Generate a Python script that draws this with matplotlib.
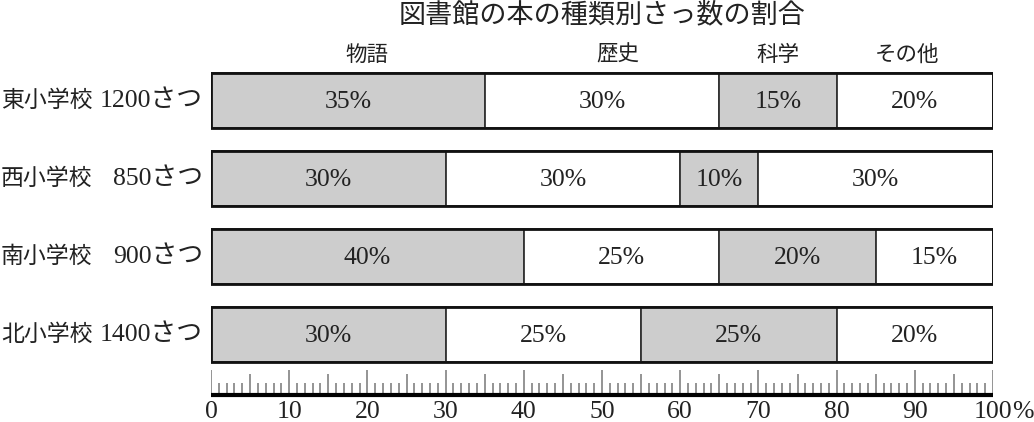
import matplotlib
matplotlib.use("Agg")
import matplotlib.pyplot as plt
import numpy as np

# ---- data ----
schools = ["東小学校", "西小学校", "南小学校", "北小学校"]
counts = ["1200さつ", "850さつ", "900さつ", "1400さつ"]
categories = ["物語", "歴史", "科学", "その他"]
monogatari = [35, 30, 40, 30]
rekishi = [30, 30, 25, 25]
kagaku = [15, 10, 20, 25]
sonota = [20, 30, 15, 20]
tick_values = list(range(0, 101, 10))
title = "図書館の本の種類別さっ数の割合"

# ---- layout ----
W, H = 1034, 422
fig = plt.figure(figsize=(W / 100, H / 100), dpi=100)
x0, x1 = 211, 993
ax = fig.add_axes([x0 / W, 0, (x1 - x0) / W, 1])
ax.set_xlim(0, 100)
ax.set_ylim(H, 0)
ax.axis("off")

JP = ["Noto Sans CJK JP", "DejaVu Sans"]
SERIF = ["Liberation Serif", "Noto Sans CJK JP"]
NUM_FS = 18.5

row_y = 100.5 + 78 * np.arange(len(schools))
bar_h = 55
series = [monogatari, rekishi, kagaku, sonota]
fills = ["#cdcdcd", "#ffffff", "#cdcdcd", "#ffffff"]

left = np.zeros(len(schools))
for vals, fc in zip(series, fills):
    vals = np.array(vals, dtype=float)
    ax.barh(row_y, vals, left=left, height=bar_h, color=fc,
            edgecolor="#333333", linewidth=1.3)
    for yc, l, v in zip(row_y, left, vals):
        ax.text(l + v / 2, yc + 1, f"{int(v)}%", ha="center", va="center",
                fontsize=NUM_FS, family=SERIF, color="#222222")
    left += vals
# outer frame
ax.barh(row_y, left, height=bar_h, fill=False, edgecolor="#111111", linewidth=2.0)

# category headers above first bar
header_x = [20, 52, 72.5, 89]
for hx, name in zip(header_x, categories):
    ax.text(hx, 55, name, ha="center", va="center", fontsize=15.5, family=JP, color="#222222")

# row labels
for yc, s, c in zip(row_y, schools, counts):
    fig.text(1 / W, 1 - yc / H, s, ha="left", va="center", fontsize=16.5, family=JP, color="#222222")
    fig.text(203 / W, 1 - yc / H, c, ha="right", va="center", fontsize=NUM_FS, family=SERIF, color="#222222")

# title
fig.text(602 / W, 1 - 15 / H, title, ha="center", va="center", fontsize=19.5, family=JP, color="#222222")

# ruler
base = 394
for i in range(0, 101):
    ln = 24 if i % 10 == 0 else (20 if i % 5 == 0 else 11)
    ax.plot([i, i], [base, base - ln], color="#777777", linewidth=1.1, solid_capstyle="butt")
ax.plot([0, 100], [base + 1, base + 1], color="black", linewidth=3.0, solid_capstyle="butt")
for t in tick_values:
    ax.text(t, 412, str(t), ha="center", va="center", fontsize=NUM_FS, family=SERIF, color="#222222")
ax.annotate("%", xy=(100, 412), xytext=(14, 0), textcoords="offset points",
            ha="left", va="center", fontsize=NUM_FS, family=SERIF, color="#222222")

fig.savefig("out.png", dpi=100)
